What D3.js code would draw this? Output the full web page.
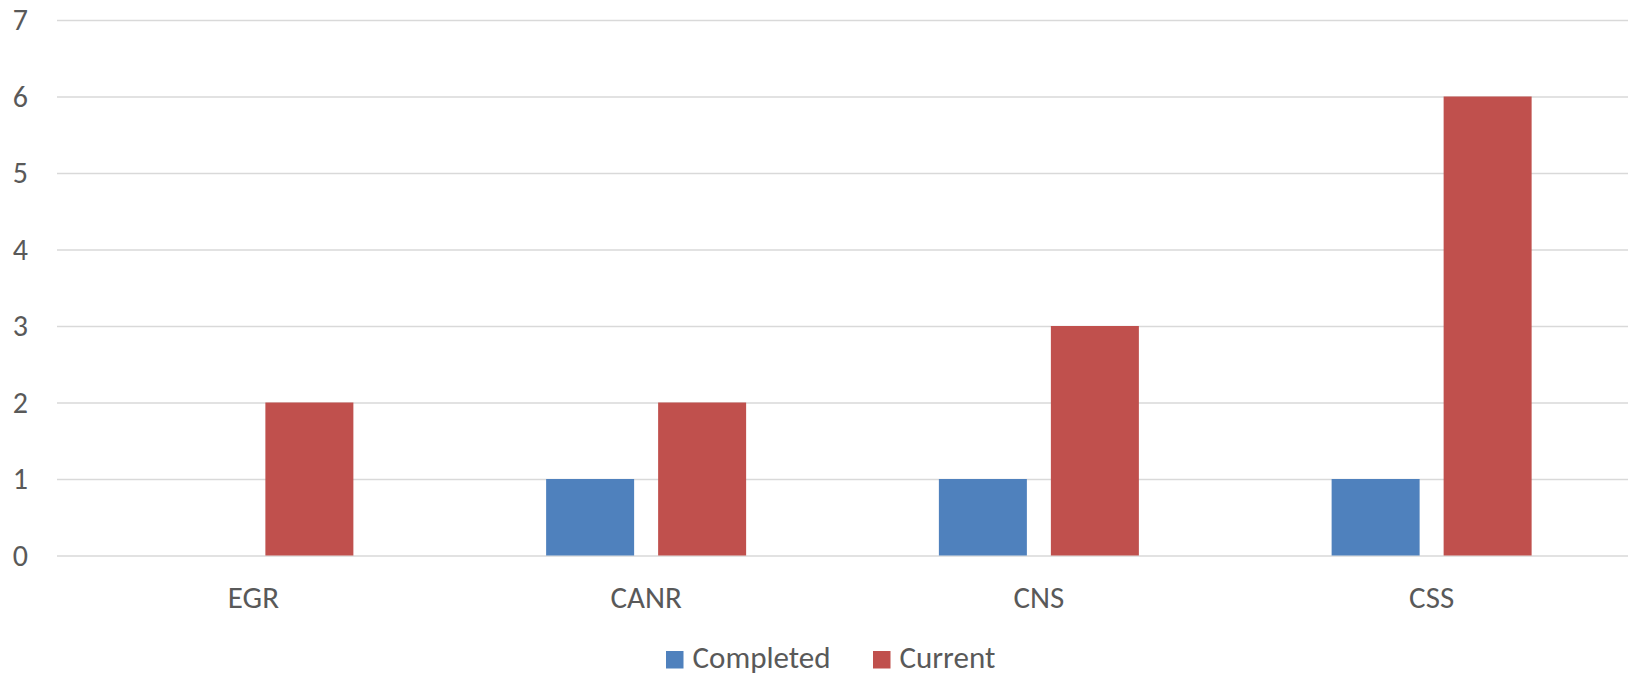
<!DOCTYPE html>
<html>
<head>
<meta charset="utf-8">
<script src="https://cdn.jsdelivr.net/npm/d3@7"></script>
<style>
  html, body { margin: 0; padding: 0; background: #fff; }
  svg { display: block; }
  text { font-family: Carlito, Calibri, Lato, sans-serif; fill: #595959; }
</style>
</head>
<body>
<svg id="chart" width="1633" height="675"></svg>
<script>
const categories = ["EGR", "CANR", "CNS", "CSS"];
const seriesNames = ["Completed", "Current"];
const completedValues = [0, 1, 1, 1];
const currentValues = [2, 2, 3, 6];
const yTicks = [0, 1, 2, 3, 4, 5, 6, 7];
const seriesColors = ["#4F81BD", "#C0504D"];

const W = 1633, H = 675;
const margin = { left: 57, right: 5, top: 20, bottom: 119.5 };
const svg = d3.select("#chart");

const x0 = d3.scaleBand().domain(categories)
  .range([margin.left, W - margin.right]).paddingInner(0).paddingOuter(0);
const groupW = 200;
const x1 = d3.scaleBand().domain(seriesNames)
  .range([(x0.bandwidth() - groupW) / 2, (x0.bandwidth() + groupW) / 2])
  .paddingInner(0.2143).paddingOuter(0);
const y = d3.scaleLinear().domain([0, 7]).range([H - margin.bottom, margin.top]);

// gridlines
const yAxis = d3.axisLeft(y).tickValues(yTicks).tickSize(-(W - margin.left - margin.right)).tickPadding(29).tickFormat(d3.format("d"));
const gy = svg.append("g").attr("transform", `translate(${margin.left},0)`).call(yAxis);
gy.select(".domain").remove();
gy.selectAll(".tick line").attr("stroke", "#D9D9D9").attr("stroke-width", 1.3);
gy.selectAll(".tick text").attr("font-size", 30).attr("fill", "#595959")
  .attr("font-family", "Carlito, Calibri, Lato, sans-serif");

// bars
const data = categories.map((c, i) => ({ cat: c, vals: [completedValues[i], currentValues[i]] }));
const groups = svg.append("g").selectAll("g").data(data).join("g")
  .attr("transform", d => `translate(${x0(d.cat)},0)`);
groups.selectAll("rect").data(d => d.vals.map((v, j) => ({ s: seriesNames[j], v, j })))
  .join("rect")
  .filter(d => d.v > 0)
  .attr("x", d => x1(d.s))
  .attr("width", x1.bandwidth())
  .attr("y", d => y(d.v))
  .attr("height", d => y(0) - y(d.v))
  .attr("fill", d => seriesColors[d.j]);

// x axis labels
const xAxis = d3.axisBottom(x0).tickSize(0).tickPadding(30);
const gx = svg.append("g").attr("transform", `translate(0,${y(0)})`).call(xAxis);
gx.select(".domain").remove();
gx.selectAll(".tick text").attr("font-size", 31).attr("fill", "#595959")
  .attr("font-family", "Carlito, Calibri, Lato, sans-serif");

// legend
const legend = svg.append("g");
const legendX = [666, 873];
seriesNames.forEach((s, i) => {
  legend.append("rect").attr("x", legendX[i]).attr("y", 651).attr("width", 17.5).attr("height", 17.5).attr("fill", seriesColors[i]);
  legend.append("text").attr("x", legendX[i] + 26.5).attr("y", 668).attr("font-size", 31).text(s);
});
</script>
</body>
</html>
